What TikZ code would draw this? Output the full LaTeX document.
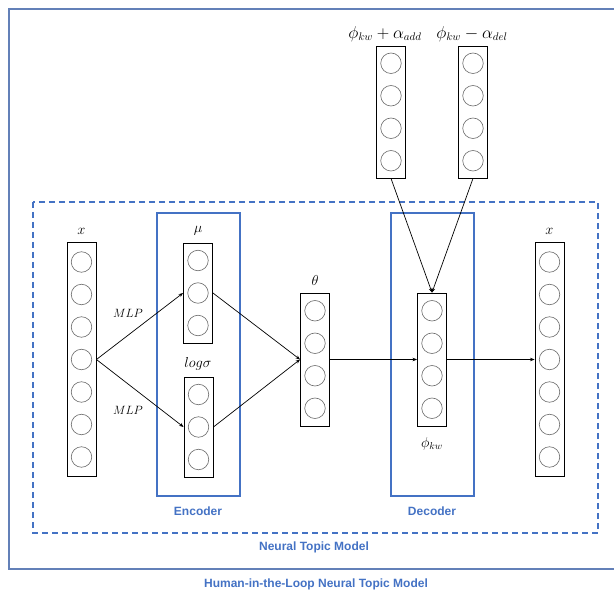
\documentclass[tikz,border=0pt]{standalone}
\usepackage{fontspec}
\setsansfont{Liberation Sans}
\usetikzlibrary{arrows.meta}
\definecolor{nblue}{HTML}{4472C4}
\definecolor{oblue}{HTML}{6380B8}
\definecolor{ngray}{HTML}{6E6E6E}
\begin{document}
\begin{tikzpicture}[x=1pt,y=-1pt,
  colbox/.style={draw=black,line width=0.9pt,minimum width=29pt,inner sep=0pt,fill=white},
  neuron/.style={circle,draw=ngray,line width=0.6pt,minimum size=20.5pt,inner sep=0pt},
  mlab/.style={font=\fontsize{14}{16}\selectfont},
  blab/.style={font=\sffamily\bfseries\fontsize{12}{14}\selectfont,text=nblue},
  arr/.style={-{Stealth[length=4.5pt,width=3.5pt]},line width=0.7pt},
  frame/.style={draw=nblue,line width=1.2pt}]
\useasboundingbox (0,0) rectangle (614,591);
\clip (0,0) rectangle (614,591);
% outer frame
\draw[draw=oblue,line width=1.1pt] (9,9) rectangle (630,569);
\node[blab,anchor=base] (hil) at (316,587) {Human-in-the-Loop Neural Topic Model};
% dashed NTM box
\draw[frame,dash pattern=on 6pt off 4pt,line width=1.1pt] (33,202) rectangle (598,533);
\node[blab] (ntm) at (314,547) {Neural Topic Model};
% encoder / decoder
\draw[frame] (157,213) rectangle (240,496);
\node[blab] (enc) at (198,511) {Encoder};
\draw[frame] (391,213) rectangle (474,496);
\node[blab] (dec) at (432,511) {Decoder};
% columns
\node[colbox,minimum height=234pt] (xin) at (81.5,359.5) {};
\foreach \i in {0,...,6} \node[neuron] (xin\i) at (81.5,{262+32.5*\i}) {};
\node[colbox,minimum height=100pt] (mu) at (198,293) {};
\foreach \i in {0,1,2} \node[neuron] (mu\i) at (198,{260.5+32.5*\i}) {};
\node[colbox,minimum height=100pt] (ls) at (198.5,427) {};
\foreach \i in {0,1,2} \node[neuron] (ls\i) at (198.5,{394.5+32.5*\i}) {};
\node[colbox,minimum height=133pt] (th) at (315,359.5) {};
\foreach \i in {0,...,3} \node[neuron] (th\i) at (315,{310.75+32.5*\i}) {};
\node[colbox,minimum height=133pt] (phi) at (432,359.5) {};
\foreach \i in {0,...,3} \node[neuron] (phi\i) at (432,{310.75+32.5*\i}) {};
\node[colbox,minimum height=234pt] (xout) at (549.5,359.5) {};
\foreach \i in {0,...,6} \node[neuron] (xout\i) at (549.5,{262+32.5*\i}) {};
\node[colbox,minimum height=132pt] (add) at (391,112) {};
\foreach \i in {0,...,3} \node[neuron] (add\i) at (391,{63.25+32.5*\i}) {};
\node[colbox,minimum height=132pt] (del) at (473,112) {};
\foreach \i in {0,...,3} \node[neuron] (del\i) at (473,{63.25+32.5*\i}) {};
% labels
\node[mlab] (lx) at (81.5,231) {$x$};
\node[mlab] (lmu) at (198,231) {$\mu$};
\node[mlab] (lls) at (198,364) {$log\sigma$};
\node[mlab] (lth) at (315,281) {$\theta$};
\node[mlab] (lphi) at (432,444) {$\phi_{kw}$};
\node[mlab] (lxo) at (549.5,231) {$x$};
\node[mlab,font=\fontsize{16}{18}\selectfont] (ladd) at (385,34) {$\phi_{kw}+\alpha_{add}$};
\node[mlab,font=\fontsize{16}{18}\selectfont] (ldel) at (472,34) {$\phi_{kw}-\alpha_{del}$};
\node[mlab,font=\fontsize{12.5}{15}\selectfont] (mlp1) at (128,313) {$MLP$};
\node[mlab,font=\fontsize{12.5}{15}\selectfont] (mlp2) at (128,410) {$MLP$};
% arrows
\draw[arr] (xin.east) -- (mu.west);
\draw[arr] (xin.east) -- (ls.west);
\draw[arr] (mu.east) -- (th.west);
\draw[arr] (ls.east) -- (th.west);
\draw[arr] (th.east) -- (phi.west);
\draw[arr] (phi.east) -- (xout.west);
\draw[arr] (add.south) -- (phi.north);
\draw[arr] (del.south) -- (phi.north);
\end{tikzpicture}
\end{document}
